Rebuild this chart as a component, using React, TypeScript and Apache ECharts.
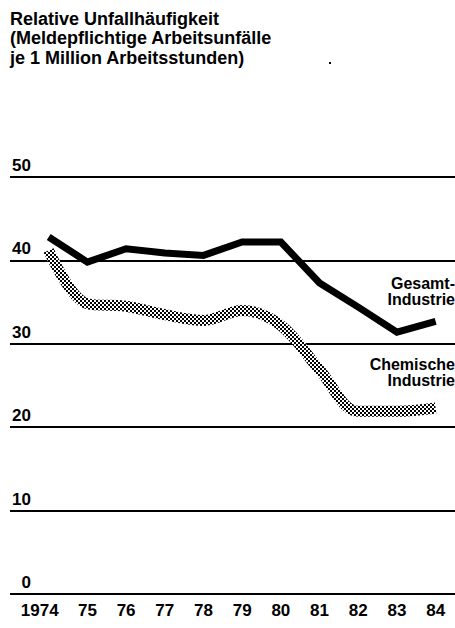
import React, { useEffect, useRef } from 'react';
import * as echarts from 'echarts';

const years = [1974, 1975, 1976, 1977, 1978, 1979, 1980, 1981, 1982, 1983, 1984];
const gesamtIndustrie = [42.8, 39.8, 41.4, 40.9, 40.6, 42.2, 42.2, 37.3, 34.4, 31.4, 32.7];
const chemischeIndustrie = [41.2, 34.8, 34.5, 33.5, 32.8, 34.0, 32.2, 26.9, 21.9, 21.9, 22.3];
const yMin = 0;
const yMax = 50;
const yStep = 10;
const titleLines = [
  'Relative Unfallhäufigkeit',
  '(Meldepflichtige Arbeitsunfälle',
  'je 1 Million Arbeitsstunden)',
];
const gesamtLabel = 'Gesamt-\nIndustrie';
const chemieLabel = 'Chemische\nIndustrie';

const FONT = '"Liberation Sans", Arial, Helvetica, sans-serif';

export default function App() {
  const ref = useRef<HTMLDivElement>(null);

  useEffect(() => {
    if (!ref.current) return;
    const chart = echarts.init(ref.current, undefined, { renderer: 'svg' });

    const c = document.createElement('canvas');
    c.width = 4;
    c.height = 4;
    const ctx = c.getContext('2d')!;
    ctx.fillStyle = '#ffffff';
    ctx.fillRect(0, 0, 4, 4);
    ctx.fillStyle = '#000000';
    ctx.fillRect(0, 0, 2, 2);
    ctx.fillRect(2, 2, 2, 2);

    const labelStyle = {
      align: 'right',
      verticalAlign: 'top',
      fontFamily: FONT,
      fontWeight: 'bold',
      fontSize: 16,
      lineHeight: 16,
      fill: '#000',
    };

    const option: any = {
      animation: false,
      backgroundColor: '#ffffff',
      grid: { left: 10, right: 0, top: 177, bottom: 34, containLabel: false },
      xAxis: {
        type: 'value',
        min: 1973,
        max: 1984.5,
        interval: 1,
        splitLine: { show: false },
        axisLine: { show: false },
        axisTick: { show: false },
        axisLabel: {
          showMaxLabel: false,
          showMinLabel: true,
          margin: 8,
          fontFamily: FONT,
          fontWeight: 'bold',
          fontSize: 17,
          color: '#000',
          formatter: (v: number) => {
            if (!Number.isInteger(v) || v < years[0]) return '';
            if (v === years[0]) return '{first|' + v + '}';
            return String(v).slice(2);
          },
          rich: {
            first: {
              fontFamily: FONT,
              fontWeight: 'bold',
              fontSize: 17,
              color: '#000',
              padding: [0, 18, 0, 0],
            },
          },
        },
      },
      yAxis: {
        type: 'value',
        min: yMin,
        max: yMax,
        interval: yStep,
        axisLine: { show: false },
        axisTick: { show: false },
        splitLine: { show: true, lineStyle: { color: '#000', width: 2 } },
        axisLabel: {
          inside: true,
          align: 'right',
          verticalAlign: 'bottom',
          margin: 21,
          padding: [0, 0, 3, 0],
          fontFamily: FONT,
          fontWeight: 'bold',
          fontSize: 17,
          color: '#000',
        },
      },
      series: [
        {
          name: 'Chemische Industrie',
          type: 'line',
          data: years.map((y, i) => [y, chemischeIndustrie[i]]),
          symbol: 'none',
          smooth: 0.35,
          z: 2,
          lineStyle: {
            width: 11,
            color: { image: c, repeat: 'repeat' },
            cap: 'butt',
          },
        },
        {
          name: 'Gesamt-Industrie',
          type: 'line',
          data: years.map((y, i) => [y, gesamtIndustrie[i]]),
          symbol: 'none',
          z: 3,
          lineStyle: { width: 7, color: '#000', cap: 'butt', join: 'miter' },
        },
      ],
      graphic: [
        {
          type: 'text',
          left: 10,
          top: 9,
          style: {
            text: titleLines.join('\n'),
            fontFamily: FONT,
            fontWeight: 'bold',
            fontSize: 18,
            lineHeight: 19.5,
            fill: '#000',
          },
        },
        { type: 'rect', shape: { x: 329, y: 62, width: 2, height: 2 }, style: { fill: '#000' } },
        { type: 'text', x: 455, y: 275, style: { text: gesamtLabel, ...labelStyle } },
        { type: 'text', x: 455, y: 356, style: { text: chemieLabel, ...labelStyle } },
      ],
    };
    chart.setOption(option);
    return () => chart.dispose();
  }, []);

  return (
    <div
      ref={ref}
      style={{ position: 'fixed', left: 0, top: 0, width: 455, height: 628, background: '#fff' }}
    />
  );
}
